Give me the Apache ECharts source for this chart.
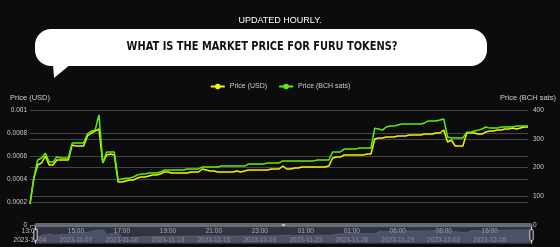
<!DOCTYPE html>
<html><head><meta charset="utf-8">
<script src="https://cdn.jsdelivr.net/npm/echarts@6.0.0/dist/echarts.min.js"></script>
<style>html,body{margin:0;padding:0;background:#0c0c0c;}#chart{width:560px;height:247px;}</style>
</head><body><div id="chart"></div>
<script>
// Tick labels shown on the x axis (one every labelStep points)
const tickLabels = ['13:00\n2023-11-04','15:00\n2023-11-07','17:00\n2023-11-10','19:00\n2023-11-13','21:00\n2023-11-16','23:00\n2023-11-19','01:00\n2023-11-23','01:00\n2023-11-26','06:00\n2023-11-29','08:00\n2023-12-02','16:00\n2023-12-05'];
const labelStep = 12;
const seriesNames = ['Price (USD)', 'Price (BCH sats)'];
const priceUSD = [
0.000183,0.000409,0.000522,0.000539,0.000600,0.000522,0.000522,0.000565,0.000565,0.000565,
0.000565,0.000696,0.000687,0.000687,0.000687,0.000774,0.000800,0.000817,0.000835,0.000539,
0.000609,0.000617,0.000609,0.000374,0.000374,0.000383,0.000391,0.000391,0.000409,0.000417,
0.000417,0.000426,0.000435,0.000435,0.000443,0.000461,0.000461,0.000452,0.000452,0.000452,
0.000452,0.000452,0.000461,0.000461,0.000461,0.000487,0.000478,0.000470,0.000470,0.000461,
0.000461,0.000461,0.000461,0.000461,0.000470,0.000461,0.000470,0.000478,0.000478,0.000478,
0.000478,0.000478,0.000478,0.000487,0.000487,0.000487,0.000513,0.000487,0.000487,0.000496,
0.000496,0.000504,0.000504,0.000504,0.000504,0.000504,0.000504,0.000504,0.000513,0.000583,
0.000591,0.000591,0.000609,0.000609,0.000609,0.000609,0.000609,0.000609,0.000617,0.000617,
0.000748,0.000757,0.000757,0.000765,0.000765,0.000765,0.000774,0.000774,0.000774,0.000783,
0.000783,0.000783,0.000783,0.000791,0.000791,0.000791,0.000800,0.000800,0.000826,0.000722,
0.000739,0.000687,0.000687,0.000687,0.000800,0.000800,0.000800,0.000791,0.000791,0.000809,
0.000817,0.000817,0.000826,0.000826,0.000835,0.000835,0.000843,0.000835,0.000843,0.000852,
0.000852];
const priceBCH = [
73,163,226,233,250,219,219,237,233,233,
233,285,285,285,285,317,327,330,383,216,
254,254,254,157,160,163,163,167,174,177,
177,181,181,181,184,191,191,191,191,191,
191,195,195,195,195,202,202,202,202,202,
205,205,205,205,205,205,205,212,212,212,
212,212,216,216,216,216,223,223,223,223,
223,223,223,223,223,226,226,226,226,254,
254,254,264,264,264,264,268,268,268,268,
337,334,330,341,344,344,348,351,351,351,
351,351,351,355,362,362,362,365,369,306,
303,303,303,303,323,323,327,330,334,341,
337,337,337,341,341,341,341,344,344,344,
344];

const categories = priceUSD.map((v, i) => i % labelStep === 0 ? tickLabels[i / labelStep] : tickLabels[Math.floor(i / labelStep)] + ' #' + i);

const FONT = '"Liberation Sans", Arial, sans-serif';
const YEL = '#f5f500', GRN = '#5ef000';
const chart = echarts.init(document.getElementById('chart'), null, {renderer: 'canvas'});
chart.setOption({
  backgroundColor: '#0c0c0c',
  animation: false,
  textStyle: {fontFamily: FONT},
  title: {text: 'UPDATED HOURLY.', left: 'center', top: 11, textStyle: {color: '#ffffff', fontSize: 9, fontWeight: 'normal', fontFamily: FONT}},
  graphic: [
    {type: 'rect', shape: {x: 35, y: 29, width: 452, height: 37, r: 16}, style: {fill: '#ffffff'}, z: 10},
    {type: 'polygon', shape: {points: [[53, 64], [71, 64], [54, 78]]}, style: {fill: '#ffffff'}, z: 10},
    {type: 'text', x: 262, y: 47, scaleX: 0.82, z: 11, style: {text: 'WHAT IS THE MARKET PRICE FOR FURU TOKENS?', fill: '#111111', font: 'bold 12px "DejaVu Sans"', align: 'center', verticalAlign: 'middle'}}
  ],
  legend: {top: 78, left: 'center', itemWidth: 14, itemHeight: 7, itemGap: 11, data: seriesNames, textStyle: {color: '#cccccc', fontSize: 7, fontFamily: FONT}},
  grid: {left: 30, right: 32, top: 110, bottom: 22},
  xAxis: {
    type: 'category', data: categories, boundaryGap: false,
    axisLine: {lineStyle: {color: '#6e7079'}},
    axisTick: {interval: labelStep - 1, length: 3, lineStyle: {color: '#6e7079'}},
    axisLabel: {interval: labelStep - 1, color: '#c4c4c4', fontSize: 6.5, lineHeight: 8.5, margin: 2, fontFamily: FONT},
    splitLine: {show: false}
  },
  yAxis: [
    {type: 'value', name: seriesNames[0], min: 0, max: 0.001, interval: 0.0002, nameGap: 8,
     nameTextStyle: {color: '#cccccc', fontSize: 7.5, fontFamily: FONT},
     axisLabel: {color: '#cccccc', fontSize: 6.5, margin: 3, fontFamily: FONT},
     axisLine: {show: false}, axisTick: {show: false},
     splitLine: {lineStyle: {color: '#444444', width: 1}}},
    {type: 'value', name: seriesNames[1], min: 0, max: 400, interval: 100, position: 'right', nameGap: 8,
     nameTextStyle: {color: '#cccccc', fontSize: 7.5, fontFamily: FONT},
     axisLabel: {color: '#cccccc', fontSize: 6.5, margin: 5, fontFamily: FONT},
     axisLine: {show: false}, axisTick: {show: false},
     splitLine: {lineStyle: {color: '#444444', width: 1}}}
  ],
  dataZoom: [{
    type: 'slider', xAxisIndex: 0, start: 0, end: 100, left: 32, right: 30, bottom: 7, height: 17,
    moveHandleSize: 4, showDetail: false, handleSize: '100%',
    borderColor: '#3a3f4a', backgroundColor: 'rgba(47,69,84,0)', fillerColor: 'rgba(120,130,160,0.35)',
    dataBackground: {lineStyle: {color: '#8090a8', width: 0.5, opacity: 0.6}, areaStyle: {color: '#5a6680', opacity: 0.5}},
    selectedDataBackground: {lineStyle: {color: '#8090a8', width: 0.5, opacity: 0.6}, areaStyle: {color: '#5a6680', opacity: 0.5}},
    handleStyle: {color: '#1c1f26', borderColor: '#d0d4e0', borderWidth: 1},
    moveHandleStyle: {color: '#6b7080', opacity: 0.9},
    textStyle: {color: 'transparent'}
  }],
  series: [
    {name: seriesNames[0], type: 'line', yAxisIndex: 0, data: priceUSD, showSymbol: false, symbol: 'circle', lineStyle: {width: 1.5, color: YEL}, itemStyle: {color: YEL}},
    {name: seriesNames[1], type: 'line', yAxisIndex: 1, data: priceBCH, showSymbol: false, symbol: 'circle', lineStyle: {width: 1.5, color: GRN}, itemStyle: {color: GRN}}
  ]
});
</script></body></html>
